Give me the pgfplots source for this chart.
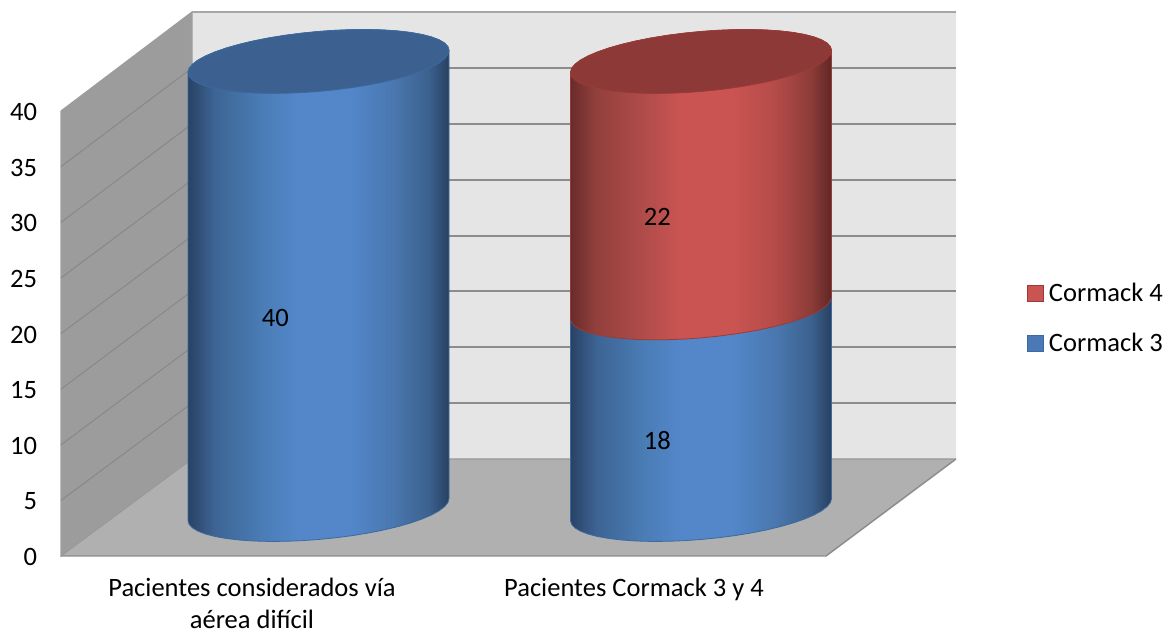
\documentclass[border=0pt]{standalone}
\usepackage{fontspec}
\setmainfont{Carlito}
\usepackage{pgfplots}
\usepackage{pgfplotstable}
\pgfplotsset{compat=1.18}

% Colours of the cylinders and walls
\definecolor{bA}{RGB}{41,66,100}
\definecolor{bB}{RGB}{61,100,148}
\definecolor{bC}{RGB}{74,124,181}
\definecolor{bD}{RGB}{83,135,202}
\definecolor{bE}{RGB}{74,120,176}
\definecolor{bF}{RGB}{60,98,143}
\definecolor{bG}{RGB}{40,64,96}
\definecolor{rA}{RGB}{105,44,42}
\definecolor{rB}{RGB}{147,64,61}
\definecolor{rC}{RGB}{176,76,74}
\definecolor{rD}{RGB}{202,84,82}
\definecolor{rE}{RGB}{181,76,73}
\definecolor{rF}{RGB}{141,60,57}
\definecolor{rG}{RGB}{94,39,37}
\definecolor{capblue}{RGB}{60,97,144}
\definecolor{capred}{RGB}{141,57,56}
\definecolor{edgeblue}{RGB}{58,106,158}
\definecolor{edgered}{RGB}{154,59,56}

% Side shading of a cylinder; the shape's width spans 25bp to 75bp
\pgfdeclarehorizontalshading{cylblue}{100bp}{color(0bp)=(bA); color(25bp)=(bA); color(30bp)=(bB); color(39bp)=(bC); color(46bp)=(bD); color(56bp)=(bD); color(64bp)=(bE); color(71bp)=(bF); color(75bp)=(bG); color(100bp)=(bG)}
\pgfdeclarehorizontalshading{cylred}{100bp}{color(0bp)=(rA); color(25bp)=(rA); color(30bp)=(rB); color(39bp)=(rC); color(46bp)=(rD); color(56bp)=(rD); color(64bp)=(rE); color(71bp)=(rF); color(75bp)=(rG); color(100bp)=(rG)}

% Outline of a cylinder side: front arc at the base, rear arc at the top (dx, dy in px)
\pgfplotstableread{
dx dy level
-130.5 -11 0
-129.4 -14.82 0
-126.1 -18.39 0
-120.6 -21.64 0
-113 -24.53 0
-103.5 -26.99 0
-92.3 -28.99 0
-79.4 -30.5 0
-65.25 -31.48 0
-49.9 -31.93 0
-33.8 -31.83 0
-17 -31.18 0
0 -30 0
17 -28.3 0
33.8 -26.13 0
49.9 -23.51 0
65.25 -20.48 0
79.4 -17.1 0
92.3 -13.43 0
103.5 -9.53 0
113 -5.47 0
120.6 -1.32 0
126.1 2.87 0
129.4 6.98 0
130.5 11 0
130.5 11 1
129.4 14.82 1
126.1 18.39 1
120.6 21.64 1
113 24.53 1
103.5 26.99 1
92.3 28.99 1
79.4 30.5 1
65.25 31.48 1
49.9 31.93 1
33.8 31.83 1
17 31.18 1
0 30 1
-17 28.3 1
-33.8 26.13 1
-49.9 23.51 1
-65.25 20.48 1
-79.4 17.1 1
-92.3 13.43 1
-103.5 9.53 1
-113 5.47 1
-120.6 1.32 1
-126.1 -2.87 1
-129.4 -6.98 1
-130.5 -11 1
-130.5 -11 0
}\sidetable

% Outline of the top face
\pgfplotstableread{
dx dy
-130.5 -11
-129.4 -14.82
-126.1 -18.39
-120.6 -21.64
-113 -24.53
-103.5 -26.99
-92.3 -28.99
-79.4 -30.5
-65.25 -31.48
-49.9 -31.93
-33.8 -31.83
-17 -31.18
0 -30
17 -28.3
33.8 -26.13
49.9 -23.51
65.25 -20.48
79.4 -17.1
92.3 -13.43
103.5 -9.53
113 -5.47
120.6 -1.32
126.1 2.87
129.4 6.98
130.5 11
129.4 14.82
126.1 18.39
120.6 21.64
113 24.53
103.5 26.99
92.3 28.99
79.4 30.5
65.25 31.48
49.9 31.93
33.8 31.83
17 31.18
0 30
-17 28.3
-33.8 26.13
-49.9 23.51
-65.25 20.48
-79.4 17.1
-92.3 13.43
-103.5 9.53
-113 5.47
-120.6 1.32
-126.1 -2.87
-129.4 -6.98
-130.5 -11
}\captable

\pgfplotstableread{
n m
0 0
}\onerow

% #1 centre x, #2 base value, #3 height, #4 shading, #5 edge colour
\newcommand{\cylside}[5]{%
  \addplot[shade, shading=#4, draw=#5, line width=0.6pt, line join=round]
    table[x expr=#1+\thisrow{dx}, y expr=#2+\thisrow{level}*#3+\thisrow{dy}/11.2] {\sidetable};
}
% #1 centre x, #2 top value, #3 fill colour, #4 edge colour
\newcommand{\cylcap}[4]{%
  \addplot[fill=#3, draw=#4, line width=0.6pt, line join=round]
    table[x expr=#1+\thisrow{dx}, y expr=#2+\thisrow{dy}/11.2] {\captable};
}
% #1 centre x, #2 base value, #3 height: value printed on the front of the segment
\newcommand{\cyllabel}[3]{%
  \addplot[draw=none, mark=none, nodes near coords={#3},
           every node near coord/.style={anchor=center, inner sep=0pt, font=\fontsize{19.9pt}{24pt}\selectfont, text=black}]
    table[x expr=#1-43.7, y expr=#2+#3/2-2.86] {\onerow};
}

\begin{document}
\begin{tikzpicture}
\path[use as bounding box] (0,0) rectangle (879pt,475.5pt);

% Walls and floor, in pixel-like coordinates
\begin{axis}[at={(0,0)}, anchor=south west, scale only axis, width=879pt, height=475.5pt,
  xmin=0, xmax=1172, ymin=0, ymax=634, y dir=reverse, hide axis, clip=false]
  \addplot[fill=black!10, draw=none] coordinates {(192,12) (956,12) (956,459) (192,459) (192,12)};
  \addplot[fill=black!39, draw=black!38, line width=0.9pt] coordinates {(61,111) (192,12) (192,459) (61,556) (61,111)};
  \addplot[fill=black!31, draw=none] coordinates {(61,556) (826,556) (956,459) (192,459) (61,556)};
  % back wall grid
  \addplot[draw=black!45, line width=1.1pt] coordinates {(192,403) (956,403)};
  \addplot[draw=black!45, line width=1.1pt] coordinates {(192,347) (956,347)};
  \addplot[draw=black!45, line width=1.1pt] coordinates {(192,291) (956,291)};
  \addplot[draw=black!45, line width=1.1pt] coordinates {(192,236) (956,236)};
  \addplot[draw=black!45, line width=1.1pt] coordinates {(192,180) (956,180)};
  \addplot[draw=black!45, line width=1.1pt] coordinates {(192,124) (956,124)};
  \addplot[draw=black!45, line width=1.1pt] coordinates {(192,68) (956,68)};
  \addplot[draw=black!35, line width=1.3pt] coordinates {(192,12) (956,12)};
  % side wall grid
  \addplot[draw=black!47, line width=0.7pt] coordinates {(61,500.4) (192,403)};
  \addplot[draw=black!47, line width=0.7pt] coordinates {(61,444.8) (192,347)};
  \addplot[draw=black!47, line width=0.7pt] coordinates {(61,389.1) (192,291)};
  \addplot[draw=black!47, line width=0.7pt] coordinates {(61,333.5) (192,236)};
  \addplot[draw=black!47, line width=0.7pt] coordinates {(61,277.9) (192,180)};
  \addplot[draw=black!47, line width=0.7pt] coordinates {(61,222.3) (192,124)};
  \addplot[draw=black!47, line width=0.7pt] coordinates {(61,166.6) (192,68)};
  % floor edges
  \addplot[draw=black!45, line width=1.1pt] coordinates {(61,556) (826,556) (956,459)};
  \addplot[draw=black!40, line width=0.8pt] coordinates {(61,556) (192,459) (956,459)};
\end{axis}

% Value axis, category labels and legend
\begin{axis}[at={(45.75pt,58.5pt)}, anchor=south west, scale only axis, width=573.75pt, height=333.75pt,
  xmin=61, xmax=826, ymin=0, ymax=40,
  axis line style={draw=none}, tick style={draw=none},
  ytick={0,5,...,40}, xtick={252,634},
  xticklabels={{Pacientes considerados vía\\aérea difícil},{Pacientes Cormack 3 y 4}},
  /pgf/number format/assume math mode=true,
  tick label style={font=\fontsize{19.9pt}{24pt}\selectfont},
  y tick label style={inner sep=0pt, xshift=-17.75pt, yshift=-0.75pt},
  x tick label style={align=center, inner sep=0pt, yshift=-16.5pt},
  legend style={at={(1.2625,0.534)}, anchor=west, draw=none, fill=none, inner sep=0pt, outer sep=0pt,
    font=\fontsize{19.9pt}{24pt}\selectfont, row sep=21.75pt,
    nodes={inner sep=0pt, anchor=west}},
  legend cell align=left,
  clip=false]
  \addlegendimage{legend image code/.code={\draw[fill=rD, draw=edgered, line width=0.8pt] (0pt,-6pt) rectangle (12pt,6pt);}}
  \addlegendentry{\hspace{3.75pt}Cormack 4}
  \addlegendimage{legend image code/.code={\draw[fill=bD!90!black, draw=edgeblue, line width=0.8pt] (0pt,-6pt) rectangle (12pt,6pt);}}
  \addlegendentry{\hspace{3.75pt}Cormack 3}
\end{axis}

% Stacked cylinders: 11.2 px per unit, value 0 at the centre of the base ellipse
\begin{axis}[at={(0,0)}, anchor=south west, scale only axis, width=879pt, height=475.5pt,
  xmin=0, xmax=1172, ymin=-11.116, ymax=45.491, hide axis, clip=false]
  % Pacientes considerados vía aérea difícil
  \cylside{318.5}{0}{40}{cylblue}{edgeblue}
  \cylcap{318.5}{40}{capblue}{edgeblue}
  \cyllabel{319}{0}{40}
  % Pacientes Cormack 3 y 4
  \cylside{701}{0}{18}{cylblue}{edgeblue}
  \cylside{701}{18}{22}{cylred}{edgered}
  \cylcap{701}{40}{capred}{edgered}
  \cyllabel{701}{0}{18}
  \cyllabel{701}{18}{22}
\end{axis}
\end{tikzpicture}
\end{document}
